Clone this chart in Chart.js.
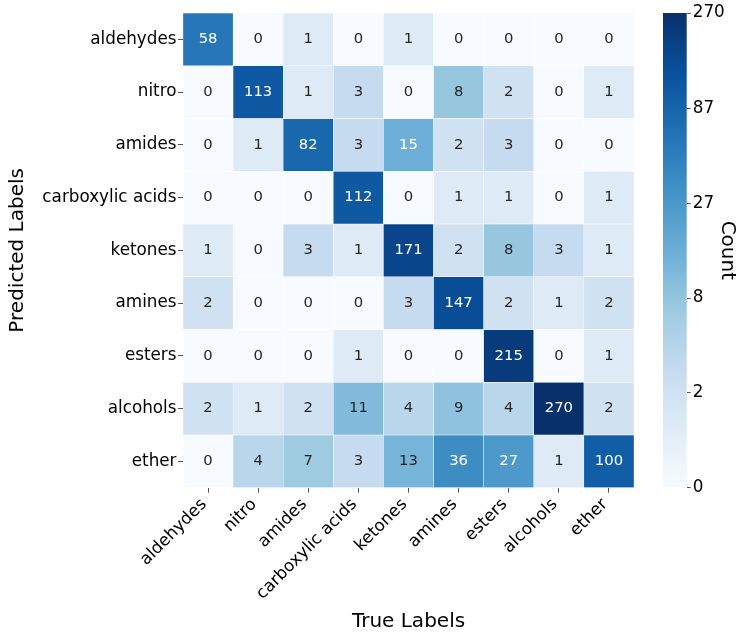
<!DOCTYPE html>
<html>
<head>
<meta charset="utf-8">
<script src="https://cdn.jsdelivr.net/npm/chart.js@4/dist/chart.umd.min.js"></script>
<style>
  body { margin: 0; background: #fff; }
  #wrap { position: relative; width: 737px; height: 632px; }
  #heatmap { position: absolute; left: 0; top: 0; }
  #colorbar { position: absolute; left: 640px; top: 0; }
</style>
</head>
<body>
<div id="wrap">
  <canvas id="heatmap" width="650" height="632"></canvas>
  <canvas id="colorbar" width="97" height="632"></canvas>
</div>
<script>
const classes = ["aldehydes", "nitro", "amides", "carboxylic acids", "ketones", "amines", "esters", "alcohols", "ether"];

// rows = predicted, columns = true
const rowAldehydes = [58, 0, 1, 0, 1, 0, 0, 0, 0];
const rowNitro = [0, 113, 1, 3, 0, 8, 2, 0, 1];
const rowAmides = [0, 1, 82, 3, 15, 2, 3, 0, 0];
const rowCarboxylic = [0, 0, 0, 112, 0, 1, 1, 0, 1];
const rowKetones = [1, 0, 3, 1, 171, 2, 8, 3, 1];
const rowAmines = [2, 0, 0, 0, 3, 147, 2, 1, 2];
const rowEsters = [0, 0, 0, 1, 0, 0, 215, 0, 1];
const rowAlcohols = [2, 1, 2, 11, 4, 9, 4, 270, 2];
const rowEther = [0, 4, 7, 3, 13, 36, 27, 1, 100];

const matrix = [rowAldehydes, rowNitro, rowAmides, rowCarboxylic, rowKetones, rowAmines, rowEsters, rowAlcohols, rowEther];

const maxCount = 270;
const cbTickValues = [0, 2.06, 8.37, 27.66, 86.9, 270];
const cbTickLabels = ["0", "2", "8", "27", "87", "270"];

const FONT = "'DejaVu Sans', sans-serif";

// matplotlib "Blues"
const blues = [
  [247, 251, 255], [222, 235, 247], [198, 219, 239], [158, 202, 225],
  [107, 174, 214], [66, 146, 198], [33, 113, 181], [8, 81, 156], [8, 48, 107],
];

const norm = (v) => Math.log1p(v) / Math.log1p(maxCount);

const bluesAt = (t) => {
  t = Math.min(1, Math.max(0, t)) * (blues.length - 1);
  const i = Math.min(Math.floor(t), blues.length - 2);
  const f = t - i;
  return blues[i].map((c, k) => Math.round(c + (blues[i + 1][k] - c) * f));
};

const rgb = (c) => `rgb(${c[0]}, ${c[1]}, ${c[2]})`;

const luminance = (c) => {
  const lin = c.map((x) => {
    x /= 255;
    return x <= 0.03928 ? x / 12.92 : Math.pow((x + 0.055) / 1.055, 2.4);
  });
  return 0.2126 * lin[0] + 0.7152 * lin[1] + 0.0722 * lin[2];
};

const cellLabels = {
  id: "cellLabels",
  afterDatasetsDraw(chart) {
    const { ctx, scales } = chart;
    ctx.save();
    ctx.font = `14.8px ${FONT}`;
    ctx.textAlign = "center";
    ctx.textBaseline = "middle";
    matrix.forEach((row, r) => {
      row.forEach((v, c) => {
        const col = bluesAt(norm(v));
        ctx.fillStyle = luminance(col) < 0.408 ? "#ffffff" : "#262626";
        ctx.fillText(String(v), scales.x.getPixelForValue(c), scales.y.getPixelForValue(r));
      });
    });
    ctx.restore();
  },
};

new Chart(document.getElementById("heatmap"), {
  type: "bar",
  data: {
    labels: classes,
    datasets: matrix.map((row, r) => ({
      label: classes[r],
      data: row.map(() => [r - 0.5, r + 0.5]),
      backgroundColor: row.map((v) => rgb(bluesAt(norm(v)))),
      borderColor: "rgba(255, 255, 255, 0.7)",
      borderWidth: 0.5,
      borderSkipped: false,
      barPercentage: 1,
      categoryPercentage: 1,
      grouped: false,
    })),
  },
  options: {
    responsive: false,
    animation: false,
    layout: { padding: { top: 13, right: 16, left: 0, bottom: 0 } },
    plugins: {
      legend: { display: false },
      tooltip: { enabled: false },
    },
    scales: {
      x: {
        type: "category",
        grid: { offset: false, drawOnChartArea: false, drawTicks: true, tickLength: 5, color: "#555" },
        border: { display: false },
        ticks: {
          autoSkip: false,
          minRotation: 45,
          maxRotation: 45,
          padding: 2,
          labelOffset: -4,
          color: "#000",
          font: { family: FONT, size: 16.8 },
        },
        title: {
          display: true,
          text: "True Labels",
          color: "#000",
          font: { family: FONT, size: 20, lineHeight: 1 },
          padding: { top: 0, bottom: 0 },
        },
        afterFit: (scale) => { scale.height = 144.3; },
      },
      y: {
        type: "linear",
        reverse: true,
        min: -0.5,
        max: 8.5,
        grid: { drawOnChartArea: false, drawTicks: true, tickLength: 5, color: "#555" },
        border: { display: false },
        afterBuildTicks: (scale) => {
          scale.ticks = classes.map((_, i) => ({ value: i }));
        },
        ticks: {
          padding: 1.5,
          color: "#000",
          font: { family: FONT, size: 16.8 },
          callback: (value) => classes[value],
        },
        title: {
          display: true,
          text: "Predicted Labels",
          color: "#000",
          font: { family: FONT, size: 20, lineHeight: 1 },
          padding: { top: 8, bottom: 0 },
        },
        afterFit: (scale) => { scale.width = 183; },
      },
    },
  },
  plugins: [cellLabels],
});

// colorbar
new Chart(document.getElementById("colorbar"), {
  type: "bar",
  data: {
    labels: ["Count"],
    datasets: [
      {
        data: [[0, Math.log1p(maxCount)]],
        backgroundColor: (context) => {
          const { ctx, chartArea } = context.chart;
          if (!chartArea) return rgb(blues[4]);
          const g = ctx.createLinearGradient(0, chartArea.bottom, 0, chartArea.top);
          blues.forEach((c, i) => g.addColorStop(i / (blues.length - 1), rgb(c)));
          return g;
        },
        borderWidth: 0,
        barPercentage: 1,
        categoryPercentage: 1,
      },
    ],
  },
  options: {
    responsive: false,
    animation: false,
    layout: { padding: { top: 13, right: 0, left: 23, bottom: 144.3 } },
    plugins: {
      legend: { display: false },
      tooltip: { enabled: false },
    },
    scales: {
      x: { display: false },
      y: {
        position: "right",
        type: "linear",
        min: 0,
        max: Math.log1p(maxCount),
        grid: { drawOnChartArea: false, drawTicks: true, tickLength: 4, color: "#555" },
        border: { display: false },
        afterBuildTicks: (scale) => {
          scale.ticks = cbTickValues.map((v) => ({ value: Math.log1p(v) }));
        },
        ticks: {
          padding: 2,
          color: "#000",
          font: { family: FONT, size: 16.8 },
          callback: (value, index) => cbTickLabels[index],
        },
        title: {
          display: true,
          text: "Count",
          color: "#000",
          font: { family: FONT, size: 20, lineHeight: 1 },
          padding: { top: 0, bottom: 0 },
        },
        afterFit: (scale) => { scale.width = 50.3; },
      },
    },
  },
});
</script>
</body>
</html>
